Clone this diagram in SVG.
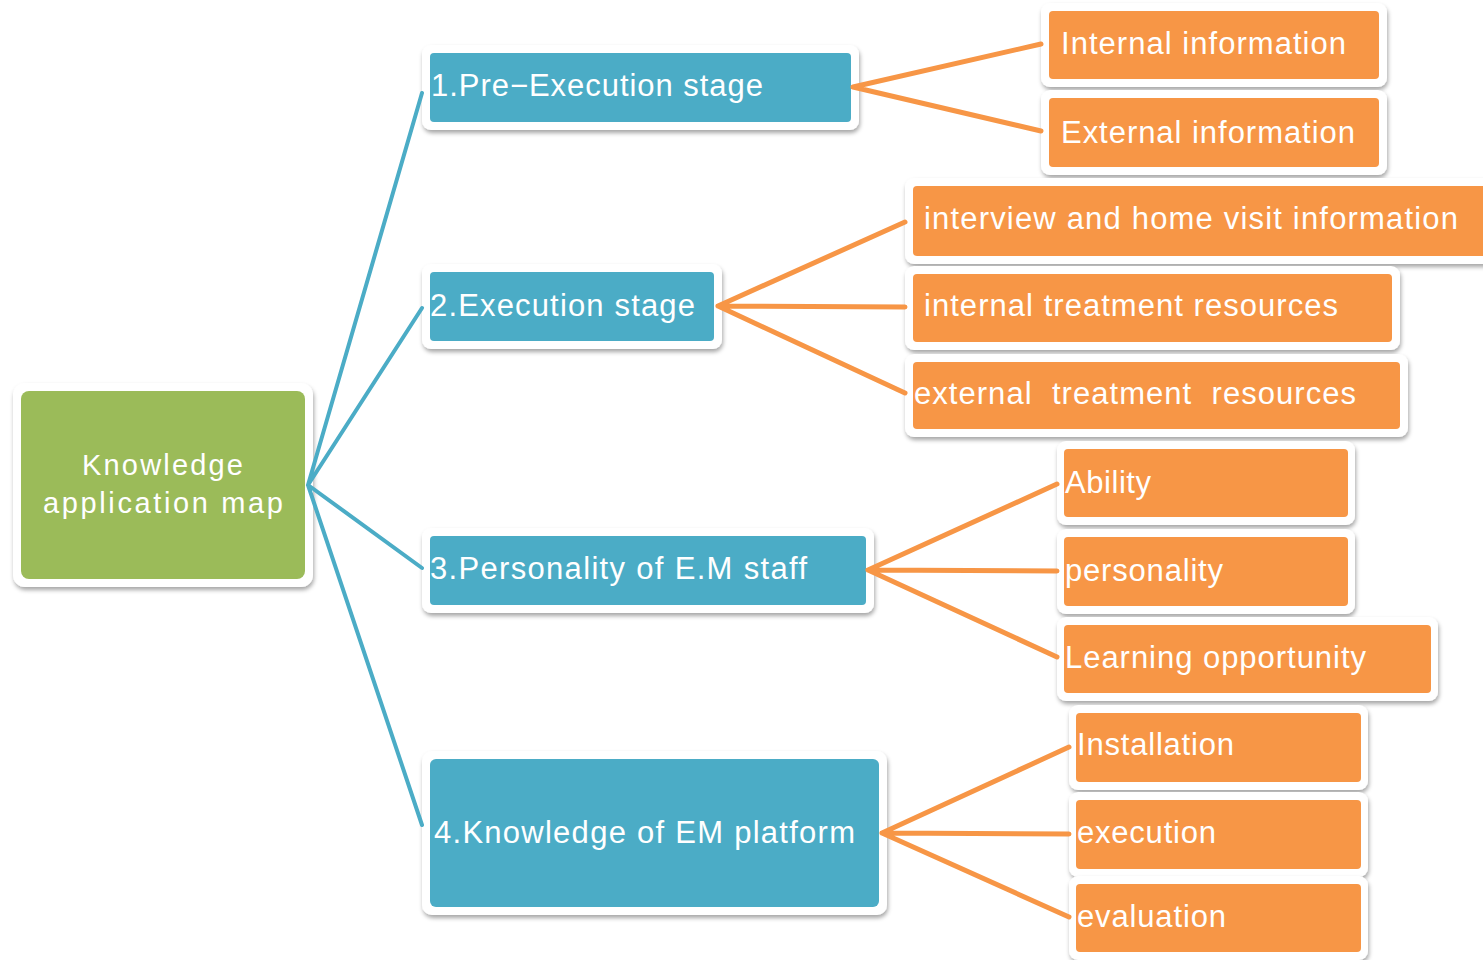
<svg xmlns="http://www.w3.org/2000/svg" width="1483" height="960" viewBox="0 0 1483 960">
<defs>
<filter id="sh" x="-10%" y="-20%" width="120%" height="150%">
<feDropShadow dx="1" dy="3" stdDeviation="2" flood-color="#000" flood-opacity="0.35"/>
</filter>
<style>
.frame{fill:#ffffff;filter:url(#sh)}
.green{fill:#9BBB59}
.blue{fill:#4BACC6}
.orange{fill:#F79646}
.t{font-family:"Liberation Sans",Arial,sans-serif;fill:#ffffff;font-size:31px;white-space:pre}
.tr{font-size:29px}
.cb{stroke:#4BACC6;stroke-width:4;fill:none;stroke-linecap:round}
.co{stroke:#F79646;stroke-width:5;fill:none;stroke-linecap:round}
</style>
</defs>
<g id="root">
<rect class="frame" x="13" y="383" width="300" height="204" rx="12"/>
<rect class="green" x="21" y="391" width="284" height="188" rx="8"/>
<text class="t tr" x="82" y="475" textLength="161" lengthAdjust="spacing">Knowledge</text>
<text class="t tr" x="43" y="513" textLength="240" lengthAdjust="spacing">application map</text>
</g>
<g id="n1">
<rect class="frame" x="422" y="45" width="437" height="85" rx="9"/>
<rect class="blue" x="430" y="53" width="421" height="69" rx="4"/>
<text class="t" x="431" y="96" textLength="332" lengthAdjust="spacing">1.Pre−Execution stage</text>
</g>
<g id="n2">
<rect class="frame" x="422" y="264" width="300" height="85" rx="9"/>
<rect class="blue" x="430" y="272" width="284" height="69" rx="4"/>
<text class="t" x="430" y="316" textLength="265" lengthAdjust="spacing">2.Execution stage</text>
</g>
<g id="n3">
<rect class="frame" x="422" y="528" width="452" height="85" rx="9"/>
<rect class="blue" x="430" y="536" width="436" height="69" rx="4"/>
<text class="t" x="430" y="579" textLength="377" lengthAdjust="spacing">3.Personality of E.M staff</text>
</g>
<g id="n4">
<rect class="frame" x="422" y="751" width="465" height="164" rx="10"/>
<rect class="blue" x="430" y="759" width="449" height="148" rx="6"/>
<text class="t" x="434" y="843" textLength="421" lengthAdjust="spacing">4.Knowledge of EM platform</text>
</g>
<g id="n1a">
<rect class="frame" x="1041" y="3" width="346" height="84" rx="9"/>
<rect class="orange" x="1049" y="11" width="330" height="68" rx="4"/>
<text class="t" x="1061" y="54" textLength="285" lengthAdjust="spacing">Internal information</text>
</g>
<g id="n1b">
<rect class="frame" x="1041" y="90" width="346" height="85" rx="9"/>
<rect class="orange" x="1049" y="98" width="330" height="69" rx="4"/>
<text class="t" x="1061" y="143" textLength="294" lengthAdjust="spacing">External information</text>
</g>
<g id="n2a">
<rect class="frame" x="905" y="178" width="596" height="86" rx="9"/>
<rect class="orange" x="913" y="186" width="580" height="70" rx="4"/>
<text class="t" x="924" y="229" textLength="534" lengthAdjust="spacing">interview and home visit information</text>
</g>
<g id="n2b">
<rect class="frame" x="905" y="266" width="495" height="84" rx="9"/>
<rect class="orange" x="913" y="274" width="479" height="68" rx="4"/>
<text class="t" x="924" y="316" textLength="414" lengthAdjust="spacing">internal treatment resources</text>
</g>
<g id="n2c">
<rect class="frame" x="905" y="354" width="503" height="83" rx="9"/>
<rect class="orange" x="913" y="362" width="487" height="67" rx="4"/>
<text class="t" x="914" y="404" textLength="442" lengthAdjust="spacing">external  treatment  resources</text>
</g>
<g id="n3a">
<rect class="frame" x="1057" y="441" width="298" height="84" rx="9"/>
<rect class="orange" x="1064" y="449" width="284" height="68" rx="4"/>
<text class="t" x="1065" y="493" textLength="86" lengthAdjust="spacing">Ability</text>
</g>
<g id="n3b">
<rect class="frame" x="1057" y="529" width="298" height="85" rx="9"/>
<rect class="orange" x="1064" y="537" width="284" height="69" rx="4"/>
<text class="t" x="1065" y="581" textLength="158" lengthAdjust="spacing">personality</text>
</g>
<g id="n3c">
<rect class="frame" x="1057" y="617" width="381" height="84" rx="9"/>
<rect class="orange" x="1064" y="625" width="367" height="68" rx="4"/>
<text class="t" x="1065" y="668" textLength="301" lengthAdjust="spacing">Learning opportunity</text>
</g>
<g id="n4a">
<rect class="frame" x="1069" y="705" width="299" height="85" rx="9"/>
<rect class="orange" x="1076" y="713" width="285" height="69" rx="4"/>
<text class="t" x="1077" y="755" textLength="157" lengthAdjust="spacing">Installation</text>
</g>
<g id="n4b">
<rect class="frame" x="1069" y="792" width="299" height="85" rx="9"/>
<rect class="orange" x="1076" y="800" width="285" height="69" rx="4"/>
<text class="t" x="1077" y="843" textLength="139" lengthAdjust="spacing">execution</text>
</g>
<g id="n4c">
<rect class="frame" x="1069" y="876" width="299" height="84" rx="9"/>
<rect class="orange" x="1076" y="884" width="285" height="68" rx="4"/>
<text class="t" x="1077" y="927" textLength="149" lengthAdjust="spacing">evaluation</text>
</g>
<g id="connectors">
<path class="cb" d="M308 485 L422 93 M308 485 L422 308 M308 485 L422 568 M308 485 L422 825"/>
<path class="co" d="M853 87 L1041 44 M853 87 L1041 131"/>
<path class="co" d="M718 306 L905 222 M718 306 L905 307 M718 306 L905 393"/>
<path class="co" d="M868 570 L1057 484 M868 570 L1057 571 M868 570 L1057 657"/>
<path class="co" d="M882 833 L1069 747 M882 833 L1069 834 M882 833 L1069 917"/>
</g>
</svg>
